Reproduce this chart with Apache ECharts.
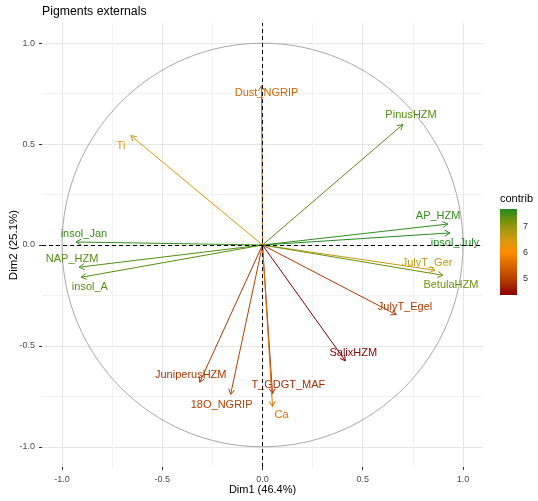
<!DOCTYPE html>
<html>
<head>
<meta charset="utf-8">
<script src="https://cdn.jsdelivr.net/npm/echarts@6/dist/echarts.min.js"></script>
<style>
  html, body { margin: 0; padding: 0; background: #fff; }
  #chart { width: 538px; height: 501px; }
</style>
</head>
<body>
<div id="chart"></div>
<script>
// variables of the PCA (correlation circle, Dim1 x Dim2)
var names = ['Dust_NGRIP', 'Ti', 'PinusHZM', 'AP_HZM', 'insol_July', 'insol_Jan', 'NAP_HZM', 'insol_A',
    'JulyT_Ger', 'BetulaHZM', 'JulyT_Egel', 'SalixHZM', 'T_GDGT_MAF', 'Ca', 'JuniperusHZM', '18O_NGRIP'];
var dim1 = [-0.005, -0.657, 0.700, 0.925, 0.935, -0.930, -0.915, -0.905,
    0.860, 0.900, 0.667, 0.413, 0.050, 0.050, -0.313, -0.159];
var dim2 = [0.790, 0.542, 0.597, 0.104, 0.060, 0.015, -0.110, -0.160,
    -0.125, -0.150, -0.345, -0.574, -0.737, -0.800, -0.680, -0.740];
// where the (repelled) labels sit, in Dim units
var labelX = [0.020, -0.706, 0.741, 0.876, 0.960, -0.891, -0.950, -0.861,
    0.821, 0.940, 0.711, 0.453, 0.129, 0.095, -0.358, -0.204];
var labelY = [0.751, 0.493, 0.642, 0.144, 0.010, 0.055, -0.070, -0.209,
    -0.090, -0.199, -0.308, -0.537, -0.692, -0.841, -0.642, -0.791];
var contrib = [5.45, 6.35, 7.40, 7.58, 7.67, 7.56, 7.42, 7.39,
    6.61, 7.28, 4.93, 4.37, 4.77, 5.60, 4.90, 5.00];

var axisTicks = [-1, -0.5, 0, 0.5, 1];
var axisMinor = [-0.75, -0.25, 0.25, 0.75];
var legendTicks = [5, 6, 7];

// darkred -> darkorange -> forestgreen, stepped like a Lab blend
var gradCols = ['#8B0000', '#A82E00', '#C54F00', '#E26E00', '#FF8C00',
    '#D89A10', '#A89812', '#6F910C', '#228B22'];

var cMin = Math.min.apply(null, contrib);
var cMax = Math.max.apply(null, contrib);

var arrowData = names.map(function (n, i) {
    return [dim1[i], dim2[i], labelX[i], labelY[i], contrib[i], n];
});

var FONT = 'Liberation Sans, Arial, sans-serif';

function renderArrow(params, api) {
    var p0 = api.coord([0, 0]);
    var p1 = api.coord([api.value(0), api.value(1)]);
    var pl = api.coord([api.value(2), api.value(3)]);
    var color = api.visual('color');
    var a = Math.atan2(p1[1] - p0[1], p1[0] - p0[0]);
    var L = 6, w = Math.PI / 6;
    var h1 = [p1[0] - L * Math.cos(a - w), p1[1] - L * Math.sin(a - w)];
    var h2 = [p1[0] - L * Math.cos(a + w), p1[1] - L * Math.sin(a + w)];
    return {
        type: 'group',
        children: [
            {type: 'line', shape: {x1: p0[0], y1: p0[1], x2: p1[0], y2: p1[1]},
                style: {stroke: color, lineWidth: 1}},
            {type: 'polyline', shape: {points: [h1, p1, h2]},
                style: {stroke: color, lineWidth: 1, fill: null}},
            {type: 'text', x: pl[0], y: pl[1],
                style: {text: api.value(5), fill: color, font: '11px ' + FONT,
                    align: 'center', verticalAlign: 'middle'}}
        ]
    };
}

function renderCircle(params, api) {
    var c = api.coord([0, 0]);
    var s = api.size([1, 1]);
    return {
        type: 'ellipse',
        shape: {cx: c[0], cy: c[1], rx: s[0], ry: s[1]},
        style: {stroke: '#A8A8A8', lineWidth: 1, fill: null}
    };
}

function renderBar(params, api) {
    var p0 = api.coord([0, api.value(1)]);
    var p1 = api.coord([1, api.value(3)]);
    var stops = gradCols.map(function (c, i) {
        return {offset: i / (gradCols.length - 1), color: c};
    });
    return {
        type: 'rect',
        shape: {x: p0[0], y: p1[1], width: p1[0] - p0[0], height: p0[1] - p1[1]},
        style: {fill: new echarts.graphic.LinearGradient(0, 1, 0, 0, stops)}
    };
}

var myChart = echarts.init(document.getElementById('chart'));

var mainAxisX = {
    type: 'value', gridIndex: 0, min: -1.1, max: 1.1,
    name: 'Dim1 (46.4%)', nameLocation: 'middle', nameGap: 17, nameMoveOverlap: false,
    nameTextStyle: {color: '#000', fontSize: 11, fontFamily: FONT},
    axisLine: {show: false, onZero: false},
    axisTick: {show: true, length: 3, customValues: axisTicks, lineStyle: {color: '#333'}},
    axisLabel: {customValues: axisTicks, margin: 8, color: '#4D4D4D', fontSize: 9, fontFamily: FONT,
        formatter: function (v) { return v.toFixed(1); }},
    splitLine: {show: true, lineStyle: {color: '#E6E6E6', width: 1}}
};
var mainAxisY = {
    type: 'value', gridIndex: 0, min: -1.1, max: 1.1,
    name: 'Dim2 (25.1%)', nameLocation: 'middle', nameGap: 22, nameRotate: 90, nameMoveOverlap: false,
    nameTextStyle: {color: '#000', fontSize: 11.5, fontFamily: FONT},
    axisLine: {show: false, onZero: false},
    axisTick: {show: true, length: 3, customValues: axisTicks, lineStyle: {color: '#333'}},
    axisLabel: {customValues: axisTicks, margin: 7, color: '#4D4D4D', fontSize: 9, fontFamily: FONT,
        formatter: function (v) { return v.toFixed(1); }},
    splitLine: {show: true, lineStyle: {color: '#E6E6E6', width: 1}}
};
var minorAxis = function (extra) {
    return Object.assign({
        type: 'value', gridIndex: 0, min: -1.1, max: 1.1,
        axisLine: {show: false, onZero: false},
        axisTick: {show: false, customValues: axisMinor},
        axisLabel: {show: false, customValues: axisMinor},
        splitLine: {show: true, lineStyle: {color: '#F2F2F2', width: 1}}
    }, extra);
};

myChart.setOption({
    animation: false,
    backgroundColor: '#fff',
    title: {
        text: 'Pigments externals', left: 37, top: 1,
        textStyle: {fontSize: 12.3, fontWeight: 'normal', color: '#000', fontFamily: FONT}
    },
    grid: [
        {left: 42, right: 55, top: 23, bottom: 34, containLabel: false, outerBoundsMode: 'none'},
        {left: 500, width: 17, top: 209, height: 86, containLabel: false, outerBoundsMode: 'none'}
    ],
    xAxis: [
        minorAxis({position: 'top'}),
        mainAxisX,
        {type: 'value', gridIndex: 1, min: 0, max: 1, show: false}
    ],
    yAxis: [
        minorAxis({position: 'right'}),
        mainAxisY,
        {
            type: 'value', gridIndex: 1, min: cMin, max: cMax, position: 'right',
            axisLine: {show: false, onZero: false},
            axisTick: {show: true, inside: true, length: 3, customValues: legendTicks,
                lineStyle: {color: '#fff', width: 1}},
            axisLabel: {customValues: legendTicks, margin: 6, color: '#333', fontSize: 9, fontFamily: FONT},
            splitLine: {show: false}
        },
        {
            type: 'value', gridIndex: 1, min: cMin, max: cMax, position: 'left',
            axisLine: {show: false, onZero: false},
            axisTick: {show: true, inside: true, length: 3, customValues: legendTicks,
                lineStyle: {color: '#fff', width: 1}},
            axisLabel: {show: false},
            splitLine: {show: false}
        }
    ],
    visualMap: {
        show: false, type: 'continuous', seriesIndex: 1, dimension: 4,
        min: cMin, max: cMax, inRange: {color: gradCols}
    },
    graphic: [{
        type: 'text', left: 500, top: 193,
        style: {text: 'contrib', fill: '#000', font: '11px ' + FONT}
    }],
    series: [
        {
            type: 'custom', xAxisIndex: 1, yAxisIndex: 1, silent: true,
            renderItem: renderCircle, data: [[0, 0]], encode: {x: 0, y: 1},
            markLine: {
                silent: true, symbol: 'none', label: {show: false},
                lineStyle: {color: '#000', type: [4, 3], width: 1},
                data: [{xAxis: 0}, {yAxis: 0}]
            }
        },
        {
            type: 'custom', xAxisIndex: 1, yAxisIndex: 1, silent: true,
            renderItem: renderArrow, data: arrowData, encode: {x: [0, 2], y: [1, 3]}, z: 3
        },
        {
            type: 'custom', xAxisIndex: 2, yAxisIndex: 2, silent: true,
            renderItem: renderBar, data: [[0, cMin, 1, cMax]], encode: {x: [0, 2], y: [1, 3]}
        }
    ]
});
</script>
</body>
</html>
